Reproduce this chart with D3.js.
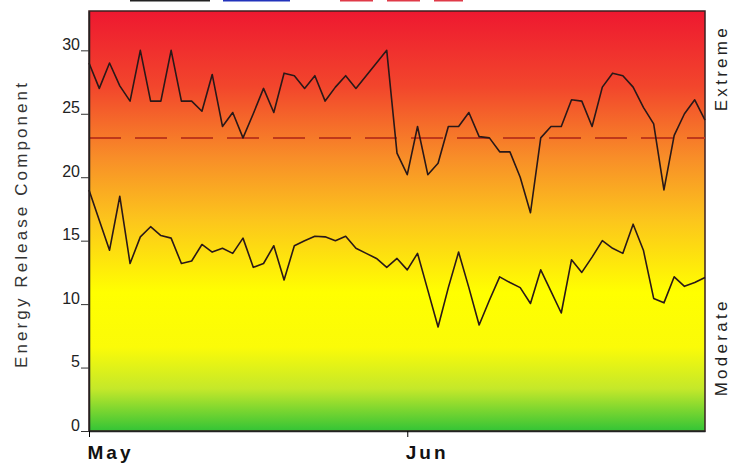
<!DOCTYPE html>
<html>
<head>
<meta charset="utf-8">
<script src="https://cdn.jsdelivr.net/npm/d3@7"></script>
<style>
  body { margin: 0; background: #fff; }
  svg { display: block; font-family: "Liberation Sans", Arial, sans-serif; }
</style>
</head>
<body>
<svg id="chart" width="734" height="464"></svg>
<script>
// daily values, May 1 .. Jun 30
const startDate = new Date(2023, 4, 1);
const upperValues = [29, 27, 29, 27.2, 26, 30, 26, 26, 30, 26, 26, 25.2, 28.1, 24, 25.1, 23.1,
  25, 27, 25.1, 28.2, 28, 27, 28, 26, 27.1, 28, 27, 28, 29, 30,
  21.9, 20.2, 24, 20.2, 21.1, 24, 24, 25.1, 23.2, 23.1, 22, 22, 20, 17.2, 23.1, 24,
  24, 26.1, 26, 24, 27.1, 28.2, 28, 27.1, 25.5, 24.2, 19, 23.3, 25, 26.1, 24.5];
const lowerValues = [19, 16.6, 14.25, 18.5, 13.2, 15.3, 16.1, 15.4, 15.2, 13.2, 13.4, 14.7, 14.1, 14.4, 14,
  15.2, 12.9, 13.2, 14.6, 11.9, 14.6, 15, 15.35, 15.3, 15, 15.35, 14.4, 14, 13.6, 12.9, 13.6,
  12.7, 14, 11.1, 8.2, 11.3, 14.1, 11.3, 8.35, 10.3, 12.15, 11.7, 11.3, 10.05, 12.7, 11,
  9.3, 13.5, 12.5, 13.7, 15, 14.4, 14, 16.3, 14.25, 10.45, 10.1, 12.15, 11.4, 11.7, 12.1];
const thresholdValue = 23.1;
const yTicks = [0, 5, 10, 15, 20, 25, 30];
const monthTicks = [new Date(2023, 4, 1), new Date(2023, 5, 1)];
const sideLabels = [{text: "Extreme", value: 28.6}, {text: "Moderate", value: 6.6}];

const margin = {top: 11, right: 29, bottom: 33, left: 89};
const width = 734, height = 464;
const svg = d3.select("#chart");

const x = d3.scaleTime()
  .domain([startDate, d3.timeDay.offset(startDate, upperValues.length - 1)])
  .range([margin.left, width - margin.right]);
const y = d3.scaleLinear()
  .domain([0, 33.1])
  .range([height - margin.bottom, margin.top]);

// background gradient
const grad = svg.append("defs").append("linearGradient")
  .attr("id", "bg").attr("x1", 0).attr("y1", 0).attr("x2", 0).attr("y2", 1);
[[0, "#ee1830"], [0.18, "#f2462c"], [0.35, "#f88e28"], [0.5, "#fcc61c"], [0.67, "#ffff00"],
 [0.8, "#fbfb08"], [0.9, "#c4e82a"], [1, "#33c436"]]
  .forEach(([o, c]) => grad.append("stop").attr("offset", o).attr("stop-color", c));

svg.append("rect")
  .attr("x", margin.left).attr("y", margin.top)
  .attr("width", width - margin.left - margin.right)
  .attr("height", height - margin.top - margin.bottom)
  .attr("fill", "url(#bg)")
  .attr("stroke", "#3a2020").attr("stroke-width", 1.5);

// legend stubs cut off at the top
const legend = [
  {x0: 130, x1: 210, color: "#222", dash: null},
  {x0: 223, x1: 290, color: "#2233bb", dash: null},
  {x0: 340, x1: 463, color: "#e03a48", dash: "33,14"}
];
svg.append("g").selectAll("line")
  .data(legend)
  .join("line")
    .attr("x1", d => d.x0).attr("x2", d => d.x1)
    .attr("y1", 0.5).attr("y2", 0.5)
    .attr("stroke", d => d.color)
    .attr("stroke-width", 2)
    .attr("stroke-dasharray", d => d.dash);

// threshold
svg.append("line")
  .attr("x1", margin.left).attr("x2", width - margin.right)
  .attr("y1", y(thresholdValue)).attr("y2", y(thresholdValue))
  .attr("stroke", "#c0381a").attr("stroke-width", 2)
  .attr("stroke-dasharray", "32,14");

const line = d3.line()
  .x((d, i) => x(d3.timeDay.offset(startDate, i)))
  .y(d => y(d));

svg.append("g")
  .attr("fill", "none")
  .attr("stroke", "#2a1818")
  .attr("stroke-width", 1.6)
  .attr("stroke-linejoin", "round")
  .selectAll("path")
  .data([upperValues, lowerValues])
  .join("path")
    .attr("d", line);

// axes
const yAxis = svg.append("g")
  .attr("transform", `translate(${margin.left},0)`)
  .call(d3.axisLeft(y).tickValues(yTicks).tickSize(8).tickSizeOuter(0).tickPadding(1));
yAxis.select(".domain").attr("stroke", "#222").attr("stroke-width", 1.5);
yAxis.selectAll(".tick line").attr("stroke", "#333");
yAxis.selectAll("text")
  .attr("dy", "-0.05em")
  .attr("fill", "#222")
  .attr("font-size", 16)
  .attr("font-family", "'Liberation Sans', Arial, sans-serif");

const xAxis = svg.append("g")
  .attr("transform", `translate(0,${height - margin.bottom})`)
  .call(d3.axisBottom(x).tickValues(monthTicks).tickFormat(d3.timeFormat("%b")).tickSize(6).tickSizeOuter(0));
xAxis.select(".domain").attr("stroke", "#222").attr("stroke-width", 1.5);
xAxis.selectAll("text")
  .attr("text-anchor", "start")
  .attr("x", -2)
  .attr("y", 0)
  .attr("dy", 28)
  .attr("font-size", 19)
  .attr("font-weight", "bold")
  .attr("letter-spacing", 3)
  .attr("fill", "#111");

// titles
svg.append("text")
  .attr("transform", `translate(27,${(margin.top + height - margin.bottom) / 2 + 3}) rotate(-90)`)
  .attr("text-anchor", "middle")
  .attr("font-size", 17)
  .attr("letter-spacing", 3.1)
  .attr("fill", "#333")
  .text("Energy Release Component");

svg.append("g").selectAll("text")
  .data(sideLabels)
  .join("text")
    .attr("transform", d => `translate(727,${y(d.value)}) rotate(-90)`)
    .attr("text-anchor", "middle")
    .attr("font-size", 17)
    .attr("letter-spacing", 3.3)
    .attr("fill", "#222")
    .text(d => d.text);
</script>
</body>
</html>
